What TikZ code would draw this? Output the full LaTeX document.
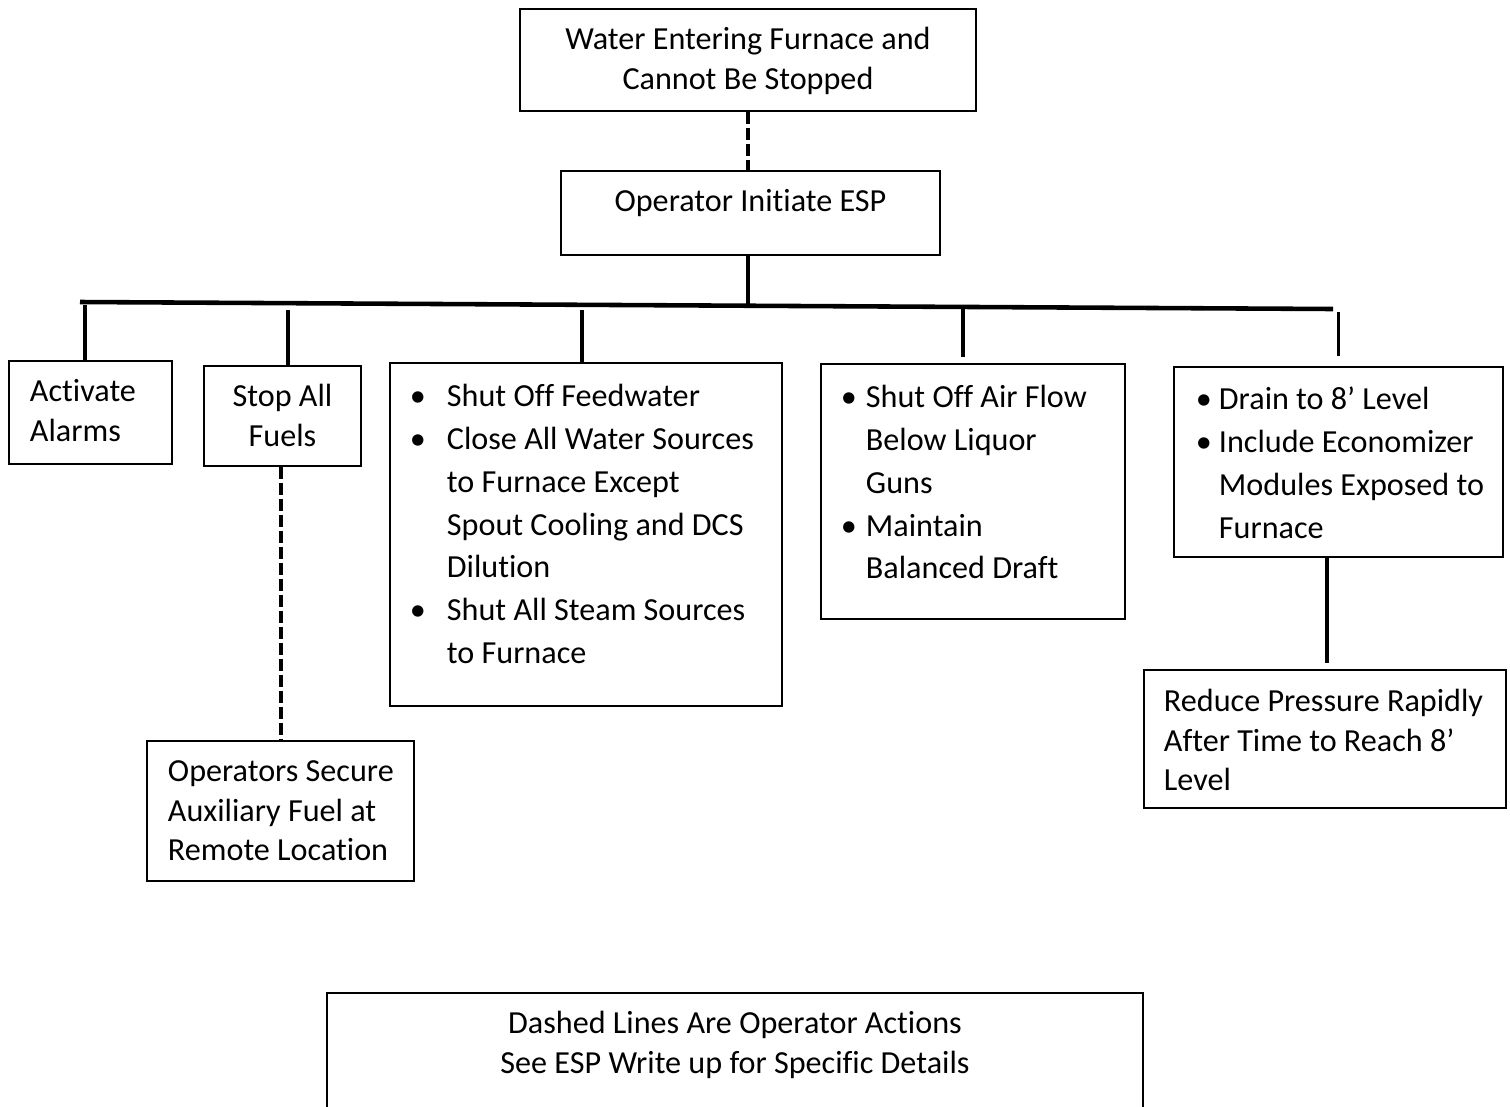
\documentclass[tikz,border=0pt]{standalone}
\usepackage{fontspec}
\setmainfont{Carlito}[Ligatures={NoCommon}]

\newlength\unitpx
\setlength\unitpx{0.02cm}
% box text: width, height, first baseline, setup, text
\newcommand{\boxtext}[5]{\parbox[t][#2\unitpx][t]{#1\unitpx}{\setlength{\parindent}{0pt}#4\rule{0pt}{#3\unitpx}#5}}
% bullet item: bullet offset, text offset, text
\newcommand{\bul}[3]{\hangindent=#2\unitpx\hangafter=1\makebox[#2\unitpx][l]{\hspace*{#1\unitpx}\makebox[0pt][c]{\textbullet}}#3}
\newcommand{\leftpad}[1]{\raggedright\leftskip=#1\unitpx}
\newcommand{\bulpad}{\fontsize{18.3}{24.3}\selectfont\rightskip=0pt plus 1fil}

\tikzset{
  block/.style={draw,line width=1.1pt,inner sep=0pt,anchor=north west,font=\fontsize{18.3}{22.4}\selectfont},
  stem/.style={line width=2pt},
  bar/.style={line width=2.6pt},
  operator/.style={line width=2pt,dash pattern=on 6.8pt off 2.3pt}
}

\begin{document}
\begin{tikzpicture}[x=0.02cm,y=-0.02cm]
	\useasboundingbox (0,0) rectangle (1510,1106);
	\clip (0,0) rectangle (1510,1106);

	%BOXES
	\node[block] (water) at (519,8)   {\boxtext{456}{102}{41}{\centering}{Water Entering Furnace and\\Cannot Be Stopped}};
	\node[block] (esp)   at (560,170) {\boxtext{379}{84}{41}{\centering}{Operator Initiate ESP}};
	\node[block] (alarms) at (8,360)  {\boxtext{163}{103}{41}{\leftpad{21}}{Activate\\Alarms}};
	\node[block] (fuels) at (203,365) {\boxtext{157}{100}{41}{\centering}{Stop All\\Fuels}};
	\node[block] (feed)  at (389,362) {\boxtext{392}{343}{44}{\bulpad}{%
		\bul{28}{57}{Shut Off Feedwater}\par
		\bul{28}{57}{Close All Water Sources\\to Furnace Except\\Spout Cooling and DCS\\Dilution}\par
		\bul{28}{57}{Shut All Steam Sources\\to Furnace}}};
	\node[block] (air)   at (820,363) {\boxtext{304}{255}{44}{\bulpad}{%
		\bul{28}{45}{Shut Off Air Flow\\Below Liquor\\Guns}\par
		\bul{28}{45}{Maintain\\Balanced Draft}}};
	\node[block] (drain) at (1173,366) {\boxtext{329}{190}{43}{\bulpad}{%
		\bul{30}{45}{Drain to 8’ Level}\par
		\bul{30}{45}{Include Economizer\\Modules Exposed to\\Furnace}}};
	\node[block] (reduce) at (1143,669) {\boxtext{362}{138}{42}{\leftpad{20}}{Reduce Pressure Rapidly\\After Time to Reach 8’\\Level}};
	\node[block] (secure) at (146,740) {\boxtext{267}{140}{41}{\leftpad{21}}{Operators Secure\\Auxiliary Fuel at\\Remote Location}};
	\node[block] (legend) at (326,992) {\boxtext{816}{150}{41}{\centering}{Dashed Lines Are Operator Actions\\See ESP Write up for Specific Details}};

	%CONNECTORS
	\coordinate (barL) at (80,302);
	\coordinate (barR) at (1333,309);
	\draw[operator] (water.south) -- (water.south |- esp.north);
	\draw[stem] ([xshift=-0.05cm]esp.south) -- ++(0,50);
	\draw[bar] (barL) -- (barR);
	\draw[stem] ([xshift=-0.11cm]alarms.north) -- ++(0,-55);
	\draw[stem] ([xshift=0.11cm]fuels.north) -- ++(0,-55);
	\draw[stem] ([xshift=-0.08cm]feed.north) -- ++(0,-52);
	\draw[stem] ([xshift=-0.2cm,yshift=0.12cm]air.north) -- ++(0,-49);
	\draw[stem] ([yshift=0.2cm]drain.north) -- ++(0,-44);
	\draw[stem] ([xshift=-0.23cm]drain.south) -- ++(0,105);
	\draw[operator] ([xshift=-0.03cm]fuels.south) -- ([xshift=-0.03cm]fuels.south |- secure.north);
\end{tikzpicture}
\end{document}
